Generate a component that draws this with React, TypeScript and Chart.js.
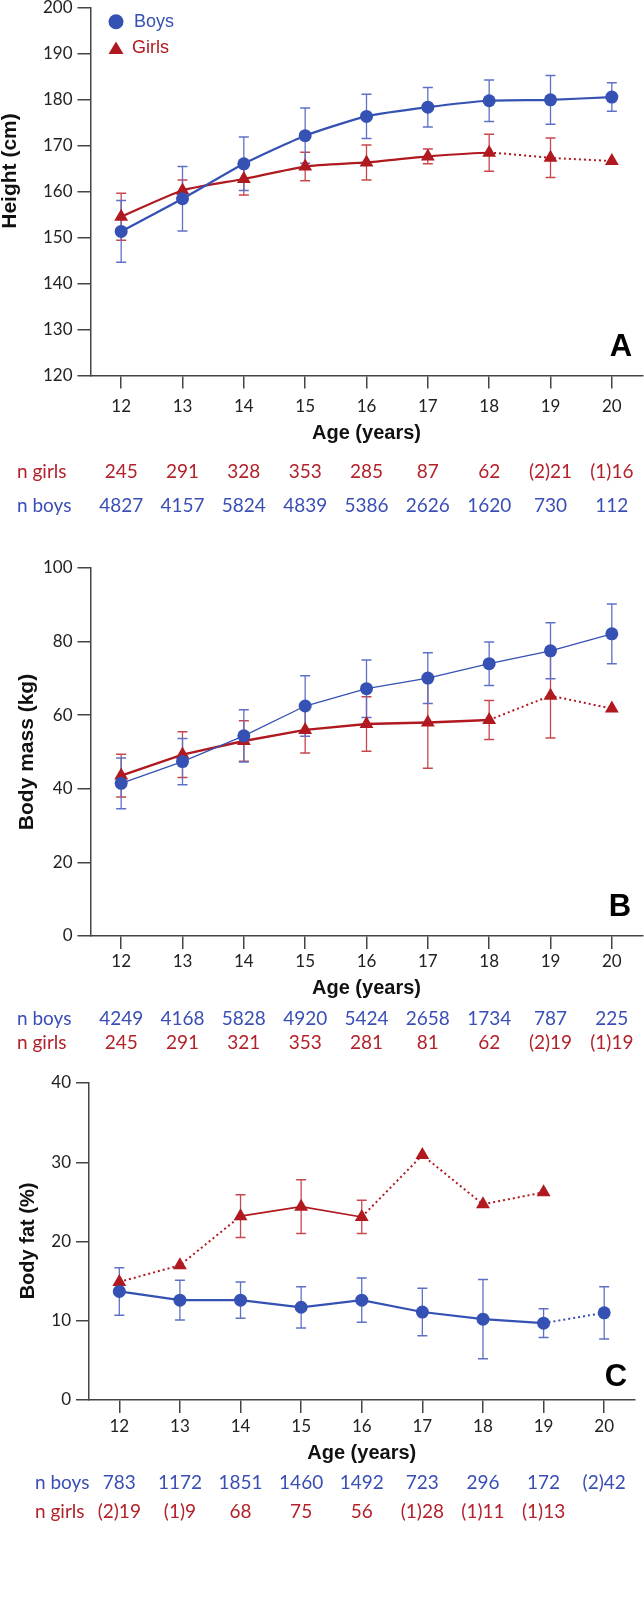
import React, { useEffect, useRef } from "react";
import { Chart, registerables } from "chart.js";

Chart.register(...registerables);

// ---------- data ----------
const ages = [12, 13, 14, 15, 16, 17, 18, 19, 20];

// Panel A: height (cm)
const heightBoys = [151.3, 158.4, 166.0, 172.1, 176.3, 178.3, 179.7, 179.9, 180.5];
const heightBoysSD = [6.7, 7.0, 5.8, 6.0, 4.8, 4.3, 4.5, 5.3, 3.1];
const heightGirls = [154.5, 160.2, 162.7, 165.4, 166.3, 167.6, 168.4, 167.3, 166.6];
const heightGirlsSD = [5.1, 2.3, 3.5, 3.1, 3.8, 1.6, 4.0, 4.3, null];
const heightBoysDotted: number[] = [];
const heightGirlsDotted = [18, 19];
const heightNGirls = ["245", "291", "328", "353", "285", "87", "62", "(2)21", "(1)16"];
const heightNBoys = ["4827", "4157", "5824", "4839", "5386", "2626", "1620", "730", "112"];
const heightTicks = [120, 200, 10];

// Panel B: body mass (kg)
const massBoys = [41.5, 47.4, 54.4, 62.5, 67.2, 70.1, 74.0, 77.5, 82.1];
const massBoysSD = [6.9, 6.3, 7.1, 8.2, 7.8, 6.9, 5.9, 7.6, 8.1];
const massGirls = [43.6, 49.3, 53.0, 56.0, 57.6, 58.0, 58.7, 65.3, 61.8];
const massGirlsSD = [5.8, 6.2, 5.5, 6.3, 7.4, 12.4, 5.3, 11.5, null];
const massBoysDotted: number[] = [];
const massGirlsDotted = [18, 19];
const massNBoys = ["4249", "4168", "5828", "4920", "5424", "2658", "1734", "787", "225"];
const massNGirls = ["245", "291", "321", "353", "281", "81", "62", "(2)19", "(1)19"];
const massTicks = [0, 100, 20];

// Panel C: body fat (%)
const fatBoys = [13.7, 12.6, 12.6, 11.7, 12.6, 11.1, 10.2, 9.7, 11.0];
const fatBoysSD = [3.0, 2.5, 2.3, 2.6, 2.8, 3.0, 5.0, 1.8, 3.3];
const fatGirls = [14.9, 17.0, 23.2, 24.4, 23.1, 30.9, 24.7, 26.2, null];
const fatGirlsSD = [null, null, 2.7, 3.4, 2.1, null, null, null, null];
const fatBoysDotted = [19];
const fatGirlsDotted = [12, 13, 16, 17, 18];
const fatNBoys = ["783", "1172", "1851", "1460", "1492", "723", "296", "172", "(2)42"];
const fatNGirls = ["(2)19", "(1)9", "68", "75", "56", "(1)28", "(1)11", "(1)13", ""];
const fatTicks = [0, 40, 10];

// ---------- styles ----------
const BLUE = "#3551b3";
const RED = "#b0191f";
const BLUE_ERR = "#5d70c6";
const RED_ERR = "#c8474c";
const BLUE_TXT = "#3a4fb5";
const RED_TXT = "#b3222a";
const AXIS = "#444";
const CANVAS_W = 680;
const TICK_FONT = "Lato";
const TITLE_FONT = "'Liberation Sans', Arial, sans-serif";

type Row = { label: string; color: string; values: string[]; y: number; labelX: number };
type Series = { means: (number | null)[]; sd: (number | null)[]; dotted: number[]; width: number };
type Spec = {
  canvasTop: number;
  canvasHeight: number;
  area: { left: number; top: number; right: number; bottom: number };
  xTitleY: number;
  tickLabelY: number;
  yTitlePos: [number, number];
  yTitleSize: number;
  yTitle: string;
  yTicks: number[];
  letter: string;
  letterPos: [number, number];
  rows: Row[];
  boys: Series;
  girls: Series;
  tension: number;
  legend: boolean;
};

function lineData(means: (number | null)[]) {
  return ages.map((a, i) => ({ x: a, y: means[i] }));
}

function errorData(means: (number | null)[], sd: (number | null)[]) {
  const out: { x: number; y: number | null }[] = [];
  ages.forEach((a, i) => {
    const m = means[i];
    const s = sd[i];
    if (m == null || s == null) return;
    out.push({ x: a, y: m - s }, { x: a, y: m + s }, { x: a, y: null });
  });
  return out;
}

function buildConfig(spec: Spec): any {
  const { area, canvasTop, canvasHeight } = spec;
  const titleSize = 20;
  const titleLH = titleSize * 1.2;
  const H = spec.xTitleY + titleLH / 2 - area.bottom;
  const tickFontSize = 17;
  const xTickPad = spec.tickLabelY - area.bottom - 13 - (tickFontSize * 1.2) / 2;
  const padding = {
    top: area.top - canvasTop,
    left: 0,
    right: CANVAS_W - area.right,
    bottom: canvasTop + canvasHeight - area.bottom - H,
  };

  const mkLine = (s: Series, color: string, style: string, radius: number, order: number, label: string) => ({
    type: "line",
    label,
    data: lineData(s.means),
    borderColor: color,
    backgroundColor: color,
    borderWidth: s.width,
    pointStyle: style,
    pointRadius: radius,
    pointBorderWidth: 0,
    pointBackgroundColor: color,
    tension: spec.tension,
    spanGaps: false,
    order,
    segment: {
      borderDash: (ctx: any) =>
        s.dotted.includes(ages[ctx.p0DataIndex]) ? [2, 3] : undefined,
      borderWidth: (ctx: any) =>
        s.dotted.includes(ages[ctx.p0DataIndex]) ? 2 : undefined,
    },
  });

  const mkErr = (s: Series, color: string, order: number, label: string) => ({
    type: "line",
    label,
    data: errorData(s.means, s.sd),
    borderColor: color,
    borderWidth: 1.3,
    pointStyle: "line",
    pointRadius: 5,
    pointBorderColor: color,
    pointBorderWidth: 1.5,
    tension: 0,
    spanGaps: false,
    order,
  });

  const overlay = {
    id: "overlay",
    afterDraw(chart: any) {
      const ctx: CanvasRenderingContext2D = chart.ctx;
      const xs = chart.scales.x;
      ctx.save();
      ctx.textBaseline = "middle";
      // y-axis title
      ctx.save();
      ctx.translate(spec.yTitlePos[0], spec.yTitlePos[1] - canvasTop);
      ctx.rotate(-Math.PI / 2);
      ctx.font = `bold ${spec.yTitleSize}px ${TITLE_FONT}`;
      ctx.fillStyle = "#111";
      ctx.textAlign = "center";
      ctx.fillText(spec.yTitle, 0, 0);
      ctx.restore();
      // count rows
      spec.rows.forEach((r) => {
        ctx.font = `19px ${TICK_FONT}`;
        ctx.fillStyle = r.color;
        ctx.textAlign = "left";
        ctx.fillText(r.label, r.labelX, r.y - canvasTop);
        ctx.textAlign = "center";
        r.values.forEach((v, i) => {
          if (!v) return;
          ctx.fillText(v, xs.getPixelForValue(ages[i]), r.y - canvasTop);
        });
      });
      // panel letter
      ctx.font = `bold 31px ${TITLE_FONT}`;
      ctx.fillStyle = "#000";
      ctx.textAlign = "center";
      ctx.fillText(spec.letter, spec.letterPos[0], spec.letterPos[1] - canvasTop);
      // legend
      if (spec.legend) {
        const oy = -canvasTop;
        ctx.fillStyle = BLUE;
        ctx.beginPath();
        ctx.arc(116, 21.7 + oy, 7.5, 0, Math.PI * 2);
        ctx.fill();
        ctx.font = `18px ${TITLE_FONT}`;
        ctx.textAlign = "left";
        ctx.fillText("Boys", 134, 22 + oy);
        ctx.fillStyle = RED;
        ctx.beginPath();
        ctx.moveTo(116, 41.5 + oy);
        ctx.lineTo(123.5, 54 + oy);
        ctx.lineTo(108.5, 54 + oy);
        ctx.closePath();
        ctx.fill();
        ctx.fillText("Girls", 132, 48 + oy);
      }
      ctx.restore();
    },
  };

  return {
    type: "line",
    data: {
      datasets: [
        mkErr(spec.girls, RED_ERR, 4, "girls sd"),
        mkErr(spec.boys, BLUE_ERR, 3, "boys sd"),
        mkLine(spec.girls, RED, "triangle", 8, 2, "Girls"),
        mkLine(spec.boys, BLUE, "circle", 6.5, 1, "Boys"),
      ],
    },
    options: {
      responsive: false,
      animation: false,
      devicePixelRatio: 1,
      events: [],
      layout: { padding },
      plugins: {
        legend: { display: false },
        tooltip: { enabled: false },
      },
      scales: {
        x: {
          type: "linear",
          min: 11.5,
          max: 20.5,
          afterBuildTicks: (s: any) => {
            s.ticks = ages.map((v) => ({ value: v }));
          },
          afterFit: (s: any) => {
            s.height = H;
          },
          ticks: {
            font: { family: TICK_FONT, size: tickFontSize },
            color: "#222",
            padding: xTickPad,
            maxRotation: 0,
            autoSkip: false,
            callback: (v: any) => String(v),
          },
          grid: {
            display: true,
            drawOnChartArea: false,
            drawTicks: true,
            tickLength: 13,
            color: AXIS,
            lineWidth: 1.5,
          },
          border: { display: true, color: AXIS, width: 1.5 },
          title: {
            display: true,
            text: "Age (years)",
            font: { family: TITLE_FONT, size: titleSize, weight: "bold", lineHeight: 1.2 },
            color: "#111",
            padding: 0,
          },
        },
        y: {
          type: "linear",
          min: spec.yTicks[0],
          max: spec.yTicks[1],
          ticks: {
            stepSize: spec.yTicks[2],
            font: { family: TICK_FONT, size: tickFontSize },
            color: "#222",
            padding: 5,
          },
          afterFit: (s: any) => {
            s.width = area.left;
          },
          grid: {
            display: true,
            drawOnChartArea: false,
            drawTicks: true,
            tickLength: 13,
            color: AXIS,
            lineWidth: 1.5,
          },
          border: { display: true, color: AXIS, width: 1.5 },
          title: { display: false },
        },
      },
    },
    plugins: [overlay],
  };
}

const panels: Spec[] = [
  {
    canvasTop: -10,
    canvasHeight: 530,
    area: { left: 90.5, top: 7.3, right: 642.5, bottom: 375.5 },
    xTitleY: 433,
    tickLabelY: 407,
    yTitlePos: [10, 171],
    yTitleSize: 21,
    yTitle: "Height (cm)",
    yTicks: heightTicks,
    letter: "A",
    letterPos: [621, 347],
    rows: [
      { label: "n girls", color: RED_TXT, values: heightNGirls, y: 472, labelX: 17 },
      { label: "n boys", color: BLUE_TXT, values: heightNBoys, y: 506, labelX: 17 },
    ],
    boys: { means: heightBoys, sd: heightBoysSD, dotted: heightBoysDotted, width: 2.2 },
    girls: { means: heightGirls, sd: heightGirlsSD, dotted: heightGirlsDotted, width: 2.2 },
    tension: 0.2,
    legend: true,
  },
  {
    canvasTop: 520,
    canvasHeight: 540,
    area: { left: 90.5, top: 568, right: 642.5, bottom: 936 },
    xTitleY: 988,
    tickLabelY: 962,
    yTitlePos: [27, 752],
    yTitleSize: 21,
    yTitle: "Body mass (kg)",
    yTicks: massTicks,
    letter: "B",
    letterPos: [620, 907],
    rows: [
      { label: "n boys", color: BLUE_TXT, values: massNBoys, y: 1019, labelX: 17 },
      { label: "n girls", color: RED_TXT, values: massNGirls, y: 1043, labelX: 17 },
    ],
    boys: { means: massBoys, sd: massBoysSD, dotted: massBoysDotted, width: 1.3 },
    girls: { means: massGirls, sd: massGirlsSD, dotted: massGirlsDotted, width: 2.4 },
    tension: 0,
    legend: false,
  },
  {
    canvasTop: 1060,
    canvasHeight: 538,
    area: { left: 89, top: 1083, right: 634.5, bottom: 1400 },
    xTitleY: 1453,
    tickLabelY: 1427,
    yTitlePos: [28, 1241],
    yTitleSize: 20,
    yTitle: "Body fat (%)",
    yTicks: fatTicks,
    letter: "C",
    letterPos: [616, 1377],
    rows: [
      { label: "n boys", color: BLUE_TXT, values: fatNBoys, y: 1483, labelX: 35 },
      { label: "n girls", color: RED_TXT, values: fatNGirls, y: 1512, labelX: 35 },
    ],
    boys: { means: fatBoys, sd: fatBoysSD, dotted: fatBoysDotted, width: 2.2 },
    girls: { means: fatGirls, sd: fatGirlsSD, dotted: fatGirlsDotted, width: 1.6 },
    tension: 0,
    legend: false,
  },
];

function Panel({ spec }: { spec: Spec }) {
  const ref = useRef<HTMLCanvasElement>(null);
  useEffect(() => {
    if (!ref.current) return;
    const chart = new Chart(ref.current, buildConfig(spec));
    return () => chart.destroy();
  }, [spec]);
  return (
    <canvas
      ref={ref}
      width={CANVAS_W}
      height={spec.canvasHeight}
      style={{
        position: "absolute",
        left: 0,
        top: spec.canvasTop,
        width: CANVAS_W,
        height: spec.canvasHeight,
      }}
    />
  );
}

export default function App() {
  return (
    <div
      style={{
        position: "absolute",
        left: 0,
        top: 0,
        width: 644,
        height: 1598,
        overflow: "hidden",
        background: "#fff",
      }}
    >
      {panels.map((p, i) => (
        <Panel key={i} spec={p} />
      ))}
    </div>
  );
}
